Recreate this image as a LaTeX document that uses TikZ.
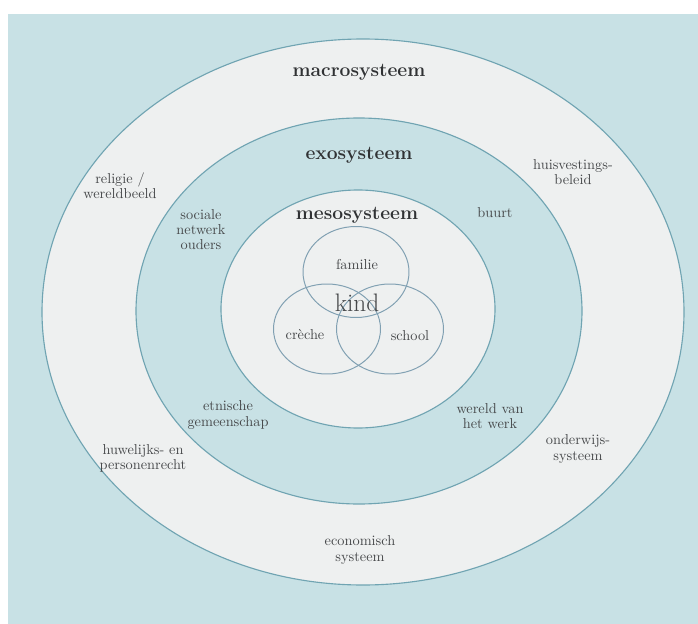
\documentclass[tikz,border=0pt]{standalone}
\usepackage{xcolor}
\usepackage{tikz}
\usetikzlibrary{positioning}

\definecolor{ringblue}{RGB}{200,225,229}
\definecolor{ringwhite}{RGB}{238,240,240}
\definecolor{ringline}{RGB}{112,164,178}
\definecolor{vennline}{RGB}{128,160,178}
\definecolor{labelgray}{RGB}{70,72,74}
\definecolor{headgray}{RGB}{48,50,52}

\begin{document}
\begin{tikzpicture}[x=0.025cm, y=-0.025cm, every node/.style={inner sep=0pt, align=center, text=labelgray, font=\fontsize{10.2}{10.7}\selectfont}, ring/.style={draw=ringline, line width=0.8pt}, venn/.style={draw=vennline, line width=0.7pt}, sys/.style={text=headgray, font=\fontsize{13.7}{15}\selectfont\bfseries}]
\useasboundingbox (0,0) rectangle (698,624);
\fill[white] (0,0) rectangle (698,624);
\fill[ringblue] (8,14) rectangle (698,624);
% rings
\filldraw[ring, fill=ringwhite] (363,312) ellipse [x radius=321, y radius=273];
\filldraw[ring, fill=ringblue] (359,311) ellipse [x radius=223, y radius=193];
\filldraw[ring, fill=ringwhite] (358,309) ellipse [x radius=137, y radius=119];
% venn
\draw[venn] (356,272) ellipse [x radius=53, y radius=45.5];
\draw[venn] (327,329) ellipse [x radius=53.5, y radius=45];
\draw[venn] (390,329) ellipse [x radius=53.5, y radius=45];
\node (fam) at (357,265) {familie};
\node (cre) at (305,335) {cr\`eche};
\node (sch) at (410,336) {school};
\node[font=\fontsize{18}{20}\selectfont] (kind) at (357,303) {kind};
% system names
\node[sys] (macro) at (359,72) {macrosysteem};
\node[sys] (exo) at (359,155) {exosysteem};
\node[sys] (meso) at (357,215) {mesosysteem};
% exo labels
\node (soc) at (201,230) {sociale\\netwerk\\ouders};
\node (buurt) at (495,213) {buurt};
\node (etn) at (228,415) {etnische\\gemeenschap};
\node (werk) at (490,416) {wereld van\\het werk};
% macro labels
\node (rel) at (120,186) {religie /\\wereldbeeld};
\node (huis) at (573,172) {huisvestings-\\beleid};
\node (huw) at (143,458) {huwelijks- en\\personenrecht};
\node (ond) at (578,449) {onderwijs-\\systeem};
\node (eco) at (360,550) {economisch\\systeem};
\end{tikzpicture}
\end{document}
